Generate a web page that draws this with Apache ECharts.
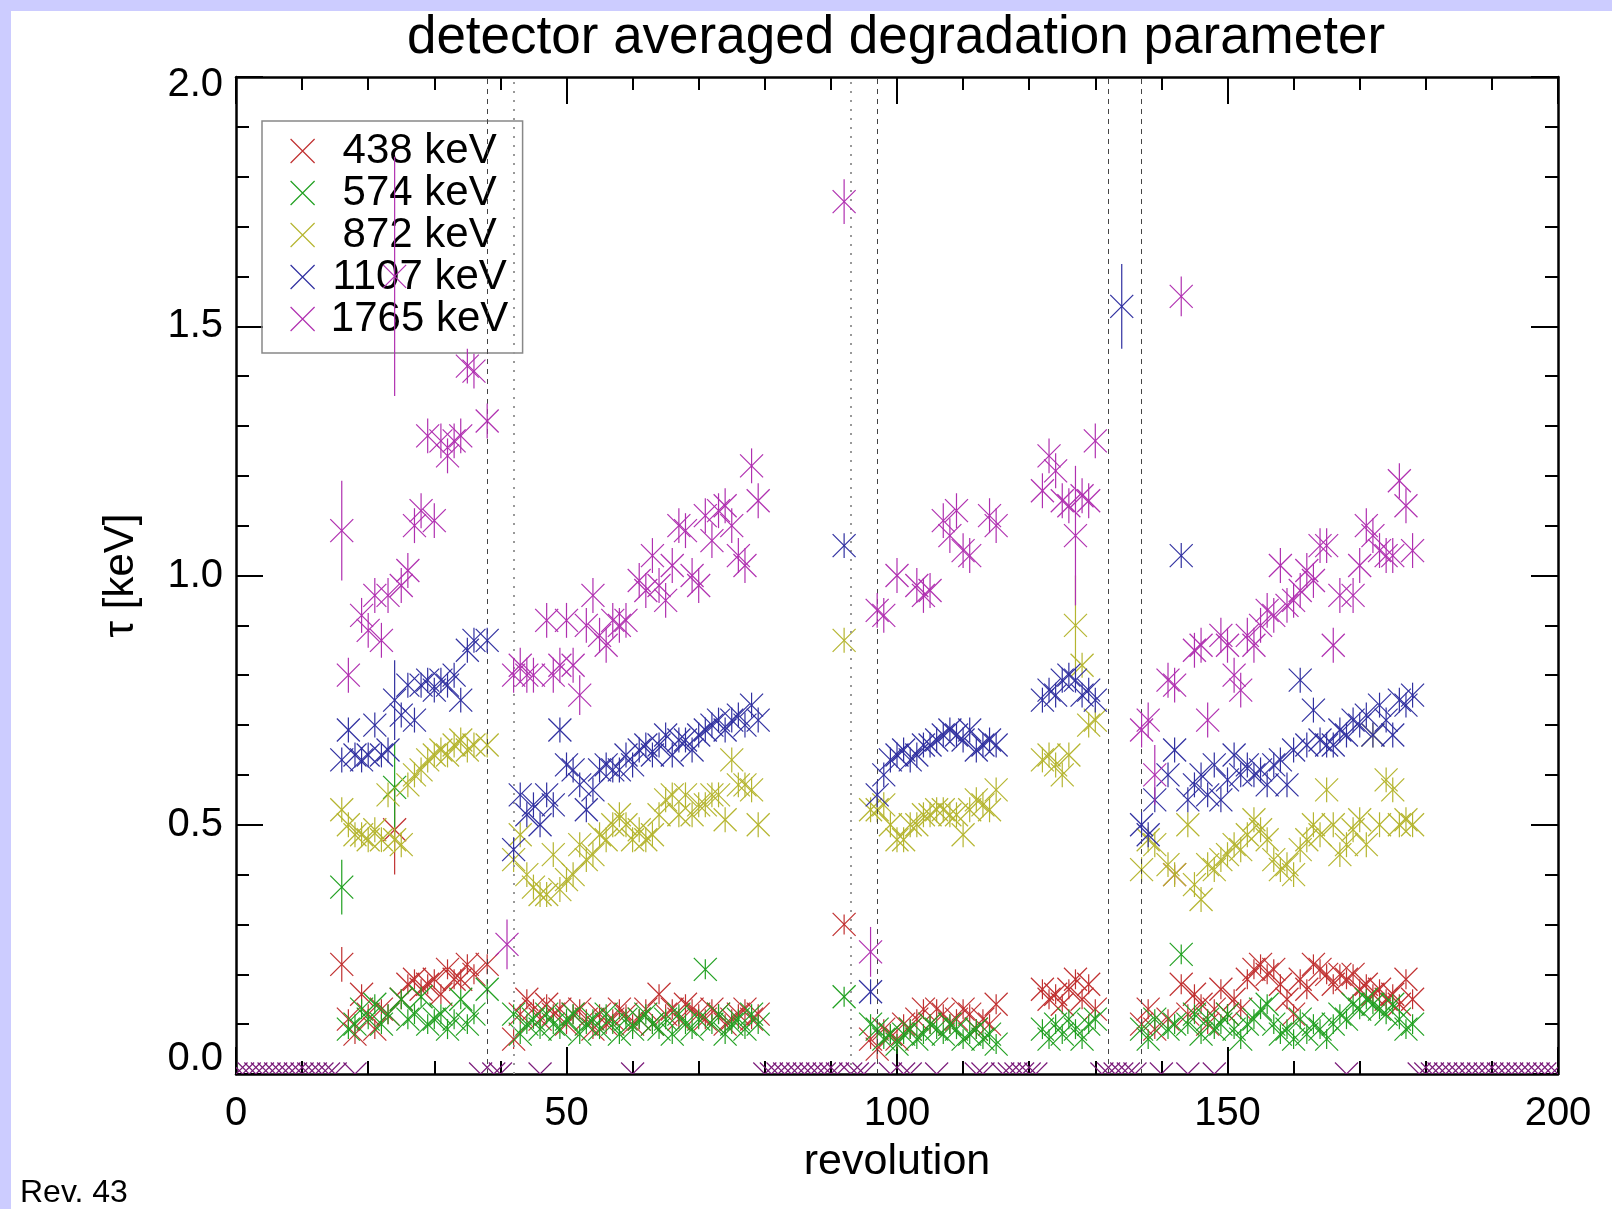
<!DOCTYPE html>
<html><head><meta charset="utf-8">
<script src="https://cdn.jsdelivr.net/npm/echarts@6/dist/echarts.min.js"></script>
<style>html,body{margin:0;padding:0;background:#fff}#c{width:1612px;height:1209px}</style>
</head><body><div id="c"></div>
<script>
const seriesNames = ['438 keV', '574 keV', '872 keV', '1107 keV', '1765 keV'];
const seriesColors = ['#c03030', '#20a020', '#b5b530', '#3030a0', '#b030b0'];
const zeroColor = '#7a1a7a';
const defaultErr = [0.02, 0.02, 0.025, 0.025, 0.035];

// [revolution, tau, (error)]
const d438 = [[16,0.22,0.035],[17,0.11],[18,0.08],[19,0.16],[20,0.12],[21,0.09],[22,0.13],[23,0.12],[24,0.49,0.09],[25,0.15],[26,0.18],[27,0.19],[28,0.17],[29,0.18],[30,0.19],[31,0.16],[32,0.21],[33,0.19],[34,0.19],[35,0.22],[36,0.20],[38,0.22],
[42,0.07],[43,0.12],[44,0.15],[45,0.13],[46,0.11],[47,0.14],[48,0.12],[49,0.13],[50,0.10],[51,0.12],[52,0.13],[53,0.11],[54,0.09],[55,0.12],[56,0.10],[57,0.11],[58,0.13],[59,0.12],[60,0.10],[61,0.11],[62,0.13],[63,0.10],[64,0.16],[65,0.12],[66,0.13],[67,0.11],[68,0.14],[69,0.13],[70,0.12],[71,0.11],[72,0.13],[73,0.12],[74,0.10],[75,0.11],[76,0.12],[77,0.13],[78,0.11],[79,0.12],
[92,0.30],[96,0.07],[97,0.05],[98,0.09],[99,0.08],[100,0.07],[101,0.10],[102,0.09],[103,0.11],[104,0.13],[105,0.10],[106,0.13],[107,0.12],[108,0.10],[109,0.11],[110,0.13],[111,0.12],[112,0.09],[113,0.11],[114,0.10],[115,0.14],
[122,0.17],[123,0.15],[124,0.16],[125,0.14],[126,0.17],[127,0.19],[128,0.15],[129,0.18],[130,0.13],
[137,0.10],[138,0.13],[139,0.09],[141,0.11],[142,0.40],[143,0.18],[144,0.12],[145,0.16],[146,0.14],[147,0.10],[148,0.13],[149,0.17],[150,0.12],[151,0.15],[152,0.13],[153,0.19],[154,0.21],[155,0.22],[156,0.20],[157,0.21],[158,0.18],[159,0.15],[160,0.12],[161,0.19],[162,0.17],[163,0.22],[164,0.21],[165,0.20],[166,0.18],[167,0.20],[168,0.19],[169,0.20],[170,0.17],[171,0.18],[172,0.16],[173,0.17],[174,0.15],[175,0.16],[176,0.14],[177,0.19],[178,0.15]];

const d574 = [[16,0.375,0.055],[17,0.09],[18,0.10],[19,0.13],[20,0.11],[21,0.14],[22,0.10],[23,0.12],[24,0.575,0.09],[25,0.15],[26,0.11],[27,0.12],[28,0.155],[29,0.10],[30,0.11],[31,0.12],[32,0.09],[33,0.11],[34,0.15],[35,0.10],[36,0.12],[38,0.17],
[42,0.12],[43,0.08],[44,0.10],[45,0.11],[46,0.09],[47,0.12],[48,0.10],[49,0.09],[50,0.11],[51,0.12],[52,0.08],[53,0.10],[54,0.11],[55,0.09],[56,0.12],[57,0.10],[58,0.08],[59,0.11],[60,0.09],[61,0.11],[62,0.12],[63,0.10],[64,0.09],[65,0.11],[66,0.08],[67,0.12],[68,0.10],[69,0.09],[70,0.11],[71,0.21],[72,0.10],[73,0.12],[74,0.08],[75,0.10],[76,0.11],[77,0.09],[78,0.12],[79,0.10],
[92,0.155],[96,0.10],[97,0.09],[98,0.07],[99,0.08],[100,0.06],[101,0.08],[102,0.09],[103,0.07],[104,0.08],[105,0.10],[106,0.09],[107,0.08],[108,0.10],[109,0.09],[110,0.07],[111,0.08],[112,0.09],[113,0.07],[114,0.08],[115,0.06],
[122,0.09],[123,0.07],[124,0.10],[125,0.08],[126,0.11],[127,0.09],[128,0.07],[129,0.10],[130,0.11],
[137,0.09],[138,0.07],[139,0.11],[141,0.09],[142,0.10],[143,0.24],[144,0.10],[145,0.12],[146,0.08],[147,0.11],[148,0.09],[149,0.10],[150,0.12],[151,0.09],[152,0.07],[153,0.10],[154,0.11],[155,0.13],[156,0.14],[157,0.10],[158,0.08],[159,0.09],[160,0.07],[161,0.11],[162,0.08],[163,0.10],[164,0.09],[165,0.07],[166,0.10],[167,0.12],[168,0.11],[169,0.14],[170,0.13],[171,0.15],[172,0.14],[173,0.13],[174,0.12],[175,0.14],[176,0.11],[177,0.09],[178,0.10]];

const d872 = [[16,0.53],[17,0.50],[18,0.48],[19,0.48],[20,0.47],[21,0.49],[22,0.47],[23,0.56],[24,0.47],[25,0.46],[26,0.58],[27,0.60],[28,0.61],[29,0.63],[30,0.64],[31,0.65],[32,0.64],[33,0.66],[34,0.67],[35,0.65],[36,0.66],[38,0.66],
[42,0.43],[43,0.48],[44,0.40],[45,0.375],[46,0.36],[47,0.36],[48,0.44],[49,0.37],[50,0.39],[51,0.40],[52,0.46],[53,0.43],[54,0.44],[55,0.48],[56,0.47],[57,0.50],[58,0.52],[59,0.50],[60,0.47],[61,0.49],[62,0.47],[63,0.48],[64,0.52],[65,0.55],[66,0.56],[67,0.52],[68,0.56],[69,0.52],[70,0.54],[71,0.54],[72,0.56],[73,0.56],[74,0.51],[75,0.63],[76,0.58],[77,0.58],[78,0.57],[79,0.50],
[92,0.87],[96,0.53],[97,0.53],[98,0.54],[99,0.50],[100,0.47],[101,0.47],[102,0.50],[103,0.50],[104,0.52],[105,0.52],[106,0.53],[107,0.53],[108,0.52],[109,0.52],[110,0.48],[111,0.53],[112,0.55],[113,0.54],[114,0.53],[115,0.57],
[122,0.63],[123,0.64],[124,0.62],[125,0.60],[126,0.64],[127,0.90,0.10],[128,0.82],[129,0.70],[130,0.71],
[137,0.41],[138,0.47],[139,0.46],[141,0.42],[142,0.40],[144,0.50],[145,0.38],[146,0.35],[147,0.42],[148,0.41],[149,0.43],[150,0.44],[151,0.46],[152,0.45],[153,0.48],[154,0.51],[155,0.49],[156,0.47],[157,0.43],[158,0.41],[159,0.42],[160,0.40],[161,0.45],[162,0.47],[163,0.50],[164,0.48],[165,0.57],[166,0.50],[167,0.44],[168,0.46],[169,0.49],[170,0.51],[171,0.46],[172,0.68],[173,0.50],[174,0.59],[175,0.57],[176,0.50],[177,0.51],[178,0.50]];

const d1107 = [[16,0.63],[17,0.69],[18,0.64],[19,0.63],[20,0.64],[21,0.70],[22,0.64],[23,0.65],[24,0.75,0.08],[25,0.72],[26,0.78],[27,0.71],[28,0.78],[29,0.79],[30,0.77],[31,0.79],[32,0.78],[33,0.80],[34,0.75],[35,0.85],[36,0.87],[38,0.87],
[42,0.45],[43,0.56],[44,0.52],[45,0.54],[46,0.50],[47,0.56],[48,0.54],[49,0.69],[50,0.62],[51,0.61],[52,0.58],[53,0.53],[54,0.57],[55,0.61],[56,0.62],[57,0.61],[58,0.61],[59,0.64],[60,0.62],[61,0.65],[62,0.66],[63,0.64],[64,0.66],[65,0.68],[66,0.64],[67,0.67],[68,0.67],[69,0.65],[70,0.68],[71,0.69],[72,0.70],[73,0.71],[74,0.69],[75,0.71],[76,0.72],[77,0.70],[78,0.74],[79,0.71],
[92,1.06],[96,0.165],[97,0.56],[98,0.60],[99,0.63],[100,0.64],[101,0.65],[102,0.63],[103,0.64],[104,0.66],[105,0.66],[106,0.67],[107,0.68],[108,0.69],[109,0.68],[110,0.67],[111,0.69],[112,0.65],[113,0.66],[114,0.67],[115,0.66],
[122,0.75],[123,0.77],[124,0.76],[125,0.79],[126,0.80],[127,0.79],[128,0.76],[129,0.77],[130,0.75],
[134,1.54,0.085],
[137,0.50],[138,0.48],[139,0.55],[141,0.60],[142,0.65],[143,1.04],[144,0.55],[145,0.58],[146,0.60],[147,0.56],[148,0.62],[149,0.55],[150,0.59],[151,0.64],[152,0.60],[153,0.62],[154,0.60],[155,0.61],[156,0.58],[157,0.62],[158,0.63],[159,0.58],[160,0.65],[161,0.79],[162,0.66],[163,0.73],[164,0.67],[165,0.66],[166,0.66],[167,0.69],[168,0.68],[169,0.71],[170,0.70],[171,0.72],[172,0.68],[173,0.74],[174,0.71],[175,0.68],[176,0.75],[177,0.74],[178,0.76]];

const d1765 = [[16,1.09,0.10],[17,0.80],[19,0.92],[20,0.89],[21,0.96],[22,0.87],[23,0.96],[24,1.60,0.24],[25,0.98],[26,1.01],[27,1.10],[28,1.13],[29,1.28],[30,1.11],[31,1.27],[32,1.24],[33,1.27],[34,1.28],[35,1.42],[36,1.41],[38,1.31],[41,0.26,0.05],
[42,0.80],[43,0.82],[44,0.80],[45,0.80],[47,0.91],[48,0.80],[49,0.82],[50,0.91],[51,0.82],[52,0.76,0.04],[53,0.90],[54,0.96],[55,0.88],[56,0.86],[57,0.91],[58,0.90],[59,0.91],[61,0.99],[62,0.97],[63,1.04],[64,0.98],[65,0.95],[66,1.02],[67,1.10],[68,1.09],[69,1.00],[70,0.98],[71,1.12],[72,1.07],[73,1.13],[74,1.14],[75,1.10],[76,1.04],[77,1.02],[78,1.22],[79,1.15],
[92,1.75,0.045],[96,0.245,0.05],[97,0.93],[98,0.92],[100,1.00],[103,0.98],[104,0.96],[105,0.97],[107,1.11],[108,1.08],[109,1.13],[110,1.05],[111,1.04],[114,1.12],[115,1.10],
[122,1.17],[123,1.24],[124,1.21],[125,1.15],[126,1.14],[127,1.08,0.14],[128,1.16],[129,1.15],[130,1.27],
[137,0.69],[138,0.71],[139,0.60,0.06],[141,0.79],[142,0.78],[143,1.56,0.04],[145,0.85],[146,0.86],[147,0.71],[149,0.88],[150,0.86],[151,0.80],[152,0.77],[153,0.88],[154,0.86],[155,0.90],[156,0.93],[157,0.92],[158,1.02],[159,0.94],[160,0.95],[161,0.97],[162,1.01],[163,0.99],[164,1.06],[165,1.06],[166,0.86],[167,0.96],[169,0.96],[170,1.02],[171,1.10],[172,1.08],[173,1.05],[174,1.04],[175,1.04],[176,1.19],[177,1.14],[178,1.05]];

// revolutions where the values are 0 (no measurement), plotted on the axis
const zeroRevs = [0,1,2,3,4,5,6,7,8,9,10,11,12,13,14,15,18,37,39,40,46,60,80,81,82,83,84,85,86,87,88,89,90,91,93,94,95,99,101,102,106,112,113,116,117,118,119,120,121,131,132,133,134,135,136,140,144,148,168,179,180,181,182,183,184,185,186,187,188,189,190,191,192,193,194,195,196,197,198,199,200];

const dashedRevs = [38, 97, 132, 137];
const dottedRevs = [42, 93];

const FONT = "'Liberation Sans', Arial, Helvetica, sans-serif";
const allData = [d438, d574, d872, d1107, d1765];

function renderFor(color) {
  return function (params, api) {
    const r = api.value(0), v = api.value(1), e = api.value(2);
    const p = api.coord([r, v]);
    const lo = api.coord([r, v - e]);
    const hi = api.coord([r, v + e]);
    const s = 11.5;
    const st = { stroke: v === 0 ? zeroColor : color, lineWidth: 1.2, fill: null };
    return {
      type: 'group',
      children: [
        { type: 'line', shape: { x1: p[0] - s, y1: p[1] - s, x2: p[0] + s, y2: p[1] + s }, style: st },
        { type: 'line', shape: { x1: p[0] - s, y1: p[1] + s, x2: p[0] + s, y2: p[1] - s }, style: st },
        { type: 'line', shape: { x1: p[0], y1: lo[1], x2: p[0], y2: hi[1] }, style: st }
      ]
    };
  };
}

const series = allData.map((arr, i) => {
  let data = arr.map(p => [p[0], p[1], p.length > 2 ? p[2] : defaultErr[i]]);
  if (i === 4) data = data.concat(zeroRevs.map(r => [r, 0, 0]));
  return {
    name: seriesNames[i],
    type: 'custom',
    clip: true,
    itemStyle: { color: seriesColors[i] },
    encode: { x: 0, y: 1 },
    renderItem: renderFor(seriesColors[i]),
    data: data,
    z: 2 + i
  };
});

series.push({
  name: 'lines',
  type: 'line',
  data: [],
  markLine: {
    silent: true,
    symbol: ['none', 'none'],
    label: { show: false },
    data: dashedRevs.map(r => ({ xAxis: r, lineStyle: { color: '#444', width: 1, type: [5, 5] } }))
      .concat(dottedRevs.map(r => ({ xAxis: r, lineStyle: { color: '#999', width: 2, type: [2, 7] } })))
  }
});

const axisCommon = {
  axisLine: { show: true, onZero: false, lineStyle: { color: '#000', width: 2.5 } },
  axisTick: { show: true, inside: true, length: 27, lineStyle: { color: '#000', width: 2 } },
  minorTick: { show: true, splitNumber: 5, length: 13, lineStyle: { color: '#000', width: 2 } },
  splitLine: { show: false },
  minorSplitLine: { show: false }
};

const yLabelRich = {
  lo: { fontFamily: FONT, fontSize: 40, color: '#000', padding: [0, 0, 30, 0] },
  hi: { fontFamily: FONT, fontSize: 40, color: '#000', padding: [15, 0, 0, 0] }
};

const option = {
  backgroundColor: '#ffffff',
  animation: false,
  graphic: [
    { type: 'rect', z: 100, shape: { x: 0, y: 0, width: 1612, height: 11 }, style: { fill: '#ccccff' } },
    { type: 'rect', z: 100, shape: { x: 0, y: 0, width: 11, height: 1209 }, style: { fill: '#ccccff' } }
  ],
  title: [
    { text: 'detector averaged degradation parameter', left: 896, top: 12, textAlign: 'center', padding: 0,
      textStyle: { fontFamily: FONT, fontSize: 53, fontWeight: 'normal', color: '#000' } },
    { text: 'Rev. 43', left: 20, top: 1177, padding: 0,
      textStyle: { fontFamily: FONT, fontSize: 32, fontWeight: 'normal', color: '#000' } }
  ],
  grid: { left: 236, right: 54, top: 77, bottom: 135, containLabel: false },
  legend: {
    orient: 'vertical',
    left: 262, top: 121,
    padding: [9, 3, 13, 28],
    itemWidth: 24, itemHeight: 42, itemGap: 0,
    backgroundColor: 'transparent',
    borderColor: '#888', borderWidth: 1.5,
    data: seriesNames.map((n, i) => ({
      name: n,
      icon: 'path://M0,0L24,24M24,0L0,24',
      itemStyle: { color: 'transparent', borderColor: seriesColors[i], borderWidth: 1.2 }
    })),
    formatter: n => '{c|' + n + '}',
    textStyle: { rich: { c: { width: 200, align: 'center', fontSize: 42, lineHeight: 42, fontFamily: FONT, color: '#000' } } },
    selectedMode: false
  },
  xAxis: [
    Object.assign({}, axisCommon, {
      type: 'value', min: 0, max: 200, interval: 50, position: 'bottom',
      name: 'revolution', nameLocation: 'middle', nameGap: 67,
      nameTextStyle: { fontFamily: FONT, fontSize: 43, color: '#000' },
      axisLabel: { fontFamily: FONT, fontSize: 40, color: '#000', margin: 20 }
    }),
    Object.assign({}, axisCommon, {
      type: 'value', min: 0, max: 200, interval: 50, position: 'top',
      axisLabel: { show: false }
    })
  ],
  yAxis: [
    Object.assign({}, axisCommon, {
      type: 'value', min: 0, max: 2, interval: 0.5, position: 'left',
      name: 'τ [keV]', nameLocation: 'middle', nameGap: 94,
      nameTextStyle: { fontFamily: FONT, fontSize: 42, color: '#000' },
      axisLabel: { fontFamily: FONT, fontSize: 40, color: '#000', margin: 13, rich: yLabelRich,
        formatter: v => v === 0 ? '{lo|' + v.toFixed(1) + '}' : (v === 2 ? '{hi|' + v.toFixed(1) + '}' : v.toFixed(1)) }
    }),
    Object.assign({}, axisCommon, {
      type: 'value', min: 0, max: 2, interval: 0.5, position: 'right',
      axisLabel: { show: false }
    })
  ],
  series: series
};

const chart = echarts.init(document.getElementById('c'), null, { renderer: 'canvas' });
chart.setOption(option);
</script>
</body></html>
